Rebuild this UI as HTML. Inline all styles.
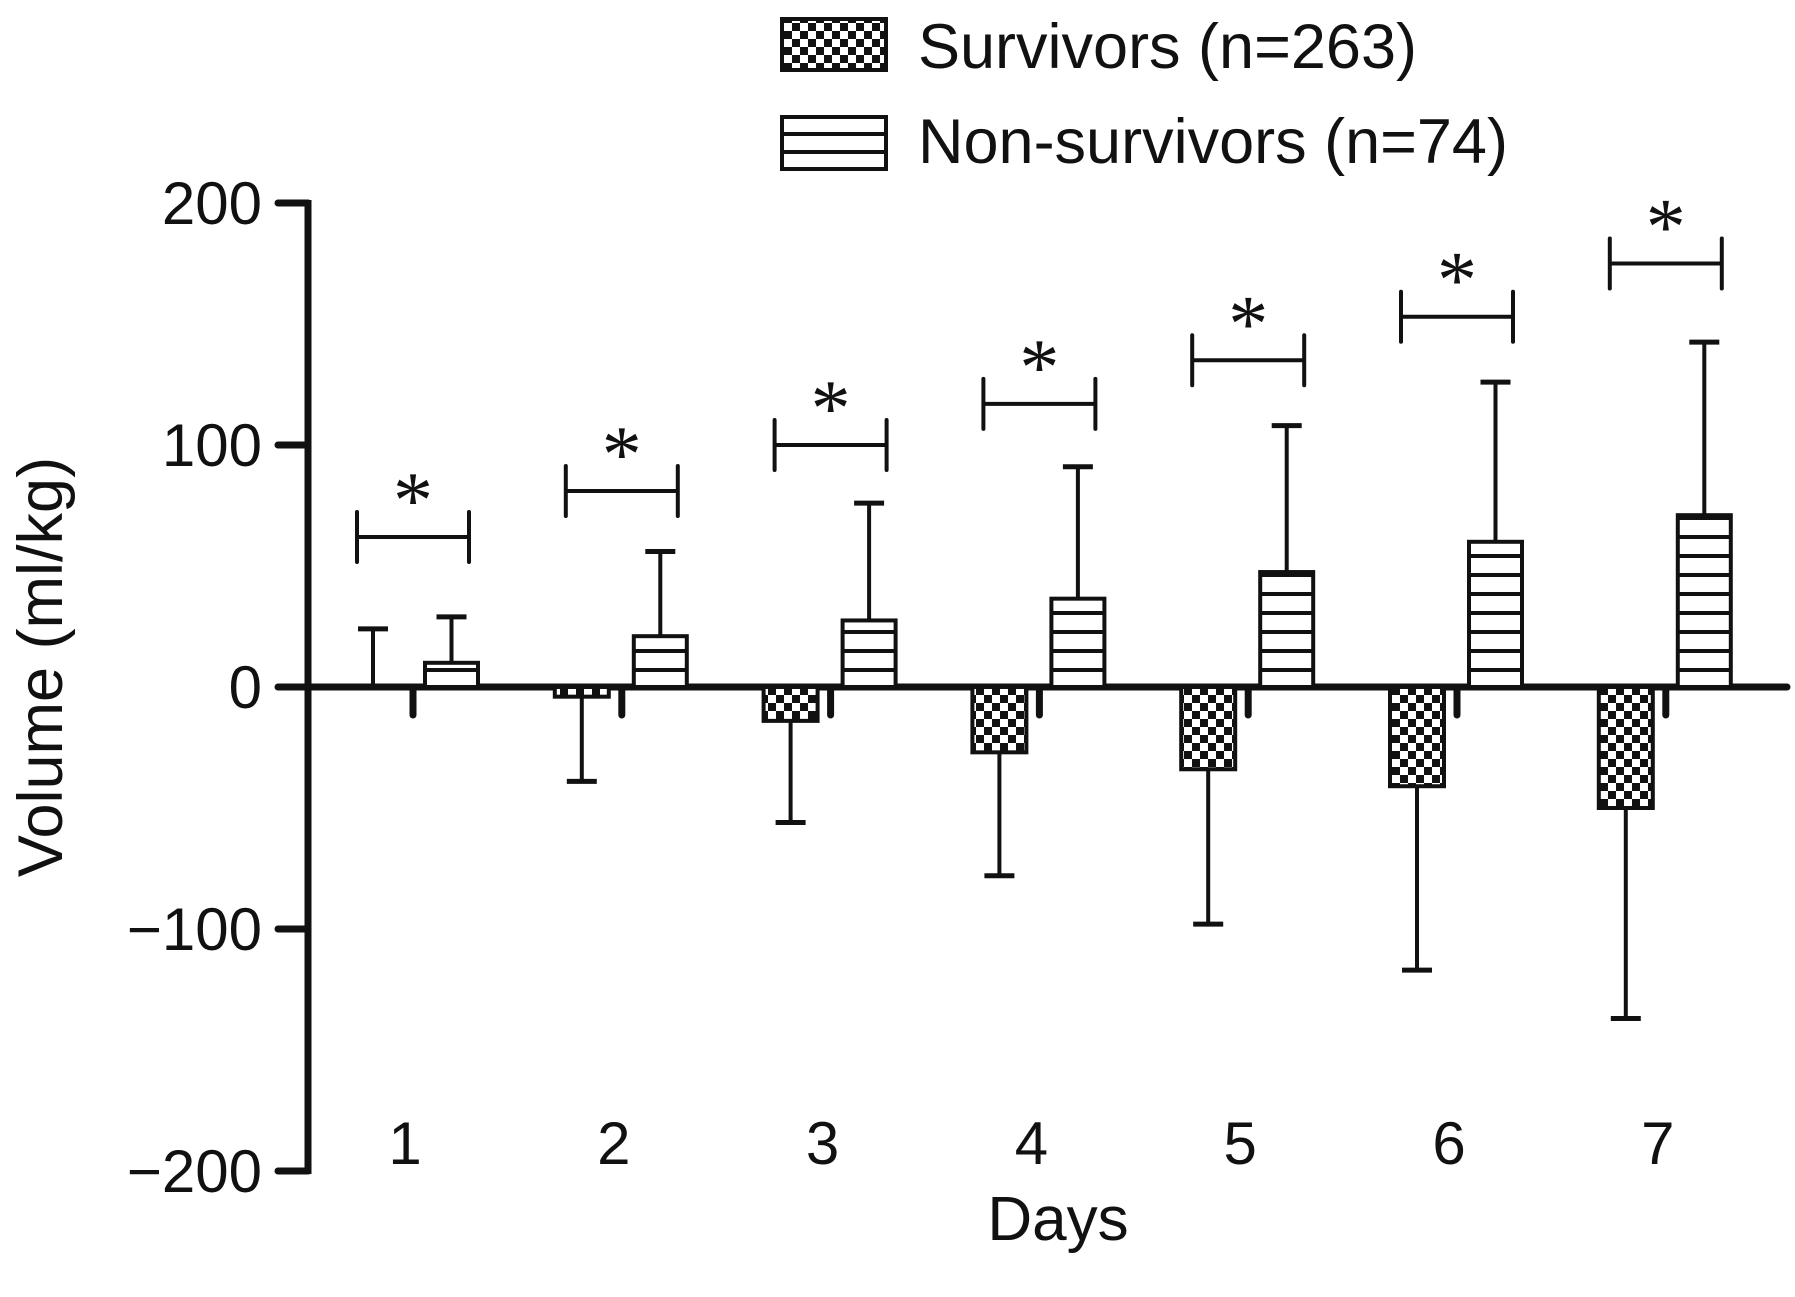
<!DOCTYPE html>
<html><head><meta charset="utf-8"><style>
html,body{margin:0;padding:0;background:#fff;}
svg{display:block;font-family:"Liberation Sans",Arial,sans-serif;}
</style></head><body>
<svg id="chart" width="1795" height="1297" viewBox="0 0 1795 1297">
<defs>
<pattern id="checker" patternUnits="userSpaceOnUse" width="16" height="16" x="0" y="687">
<rect width="16" height="16" fill="#fff"/>
<rect x="0" y="0" width="8" height="8" fill="#111"/>
<rect x="8" y="8" width="8" height="8" fill="#111"/>
</pattern>
<pattern id="stripes" patternUnits="userSpaceOnUse" width="20" height="19" x="0" y="687">
<rect width="20" height="19" fill="#fff"/>
<rect x="0" y="0" width="20" height="4" fill="#111"/>
</pattern>
</defs>
<g id="legend">
<g>
<rect x="782" y="19" width="104" height="51" fill="url(#checker)" stroke="#111" stroke-width="4"/>
<text x="918" y="68" font-size="63" fill="#111">Survivors (n=263)</text>
</g>
<g>
<rect x="782" y="117" width="104" height="52" fill="#fff" stroke="#111" stroke-width="4"/>
<line x1="782" y1="134" x2="886" y2="134" stroke="#111" stroke-width="4"/>
<line x1="782" y1="152" x2="886" y2="152" stroke="#111" stroke-width="4"/>
<text x="918" y="163" font-size="63" fill="#111">Non-survivors (n=74)</text>
</g>
</g>
<text x="0" y="0" font-size="63" fill="#111" text-anchor="middle" transform="translate(62,667) rotate(-90)">Volume (ml/kg)</text>
<text x="1058" y="1240" font-size="62" fill="#111" text-anchor="middle">Days</text>
<g id="plot"></g>
</svg>
<script>
const days = ["1","2","3","4","5","6","7"];
const survivorMean = [0, -4, -14, -27, -34, -41, -50];
const survivorErr = [24, -39, -56, -78, -98, -117, -137];
const nonSurvivorMean = [10, 21, 27.5, 36.5, 47.5, 60, 71];
const nonSurvivorErr = [29, 56, 76, 91, 108, 126, 142.5];
const bracketValues = [62, 81, 100, 117, 135, 153, 175];
const yTicks = [200, 100, 0, -100, -200];
const yTickLabels = ["200", "100", "0", "\u2212100", "\u2212200"];

const NS = "http://www.w3.org/2000/svg";
const plot = document.getElementById("plot");
const yZero = 687, pxPerUnit = 2.42;
function y(v){ return yZero - v * pxPerUnit; }
function xc(i){ return 413 + i * 208.8; }
function mk(tag, attrs, parent){
  const e = document.createElementNS(NS, tag);
  for (const k in attrs) e.setAttribute(k, attrs[k]);
  (parent || plot).appendChild(e);
  return e;
}
const axisX = 308;
let ax = mk("line", {x1: axisX, y1: y(200) - 3, x2: axisX, y2: y(-200) + 3, stroke: "#111", "stroke-width": 7});


yTicks.forEach((t, i) => {
  const tk = mk("line", {x1: 278, y1: y(t), x2: axisX, y2: y(t), stroke: "#111", "stroke-width": 7, "stroke-linecap": "round"});
  
  
  const lb = mk("text", {x: 262, y: y(t) + 21, "font-size": 60, "text-anchor": "end", fill: "#111"});
  lb.textContent = yTickLabels[i];
  
  
});
let zl = mk("line", {x1: axisX, y1: y(0), x2: 1787, y2: y(0), stroke: "#111", "stroke-width": 7, "stroke-linecap": "round"});



function errBar(cx, from, to){
  const l = mk("line", {x1: cx, y1: y(from), x2: cx, y2: y(to), stroke: "#111", "stroke-width": 4});
  
  
  const c = mk("line", {x1: cx - 15, y1: y(to), x2: cx + 15, y2: y(to), stroke: "#111", "stroke-width": 5});
  
  
}

days.forEach((d, i) => {
  const c = xc(i);
  const ct = mk("line", {x1: c, y1: y(0), x2: c, y2: y(0) + 28, stroke: "#111", "stroke-width": 7, "stroke-linecap": "round"});
  
  
  const sm = survivorMean[i];
  const sx0 = c - 67, sx1 = c - 13, scx = (sx0 + sx1) / 2;
  errBar(scx, sm, survivorErr[i]);
  if (Math.abs(sm) > 0.5) {
    const sb = mk("rect", {x: sx0, y: Math.min(y(sm), y(0)), width: sx1 - sx0, height: Math.abs(y(sm) - y(0)), fill: "url(#checker)", stroke: "#111", "stroke-width": 4});
    
    
  }
  const nm = nonSurvivorMean[i];
  const nx0 = c + 12, nx1 = c + 65, ncx = (nx0 + nx1) / 2;
  errBar(ncx, nm, nonSurvivorErr[i]);
  const nb = mk("rect", {x: nx0, y: Math.min(y(nm), y(0)), width: nx1 - nx0, height: Math.abs(y(nm) - y(0)), fill: "url(#stripes)", stroke: "#111", "stroke-width": 4});
  
  
  const by = y(bracketValues[i]);
  const bl = c - 56, br = c + 56;
  const g = mk("g", {});
  
  
  mk("line", {x1: bl, y1: by, x2: br, y2: by, stroke: "#111", "stroke-width": 4}, g);
  mk("line", {x1: bl, y1: by - 25, x2: bl, y2: by + 25, stroke: "#111", "stroke-width": 4, "stroke-linecap": "round"}, g);
  mk("line", {x1: br, y1: by - 25, x2: br, y2: by + 25, stroke: "#111", "stroke-width": 4, "stroke-linecap": "round"}, g);
  const st = mk("text", {x: (bl + br) / 2, y: by - 10, "font-size": 80, "text-anchor": "middle", fill: "#111", "font-family": "Liberation Serif, serif"}, g);
  st.textContent = "*";
  
  
  const dl = mk("text", {x: c - 8, y: 1164, "font-size": 60, "text-anchor": "middle", fill: "#111"});
  dl.textContent = d;
  
  
});
</script>
</body></html>
